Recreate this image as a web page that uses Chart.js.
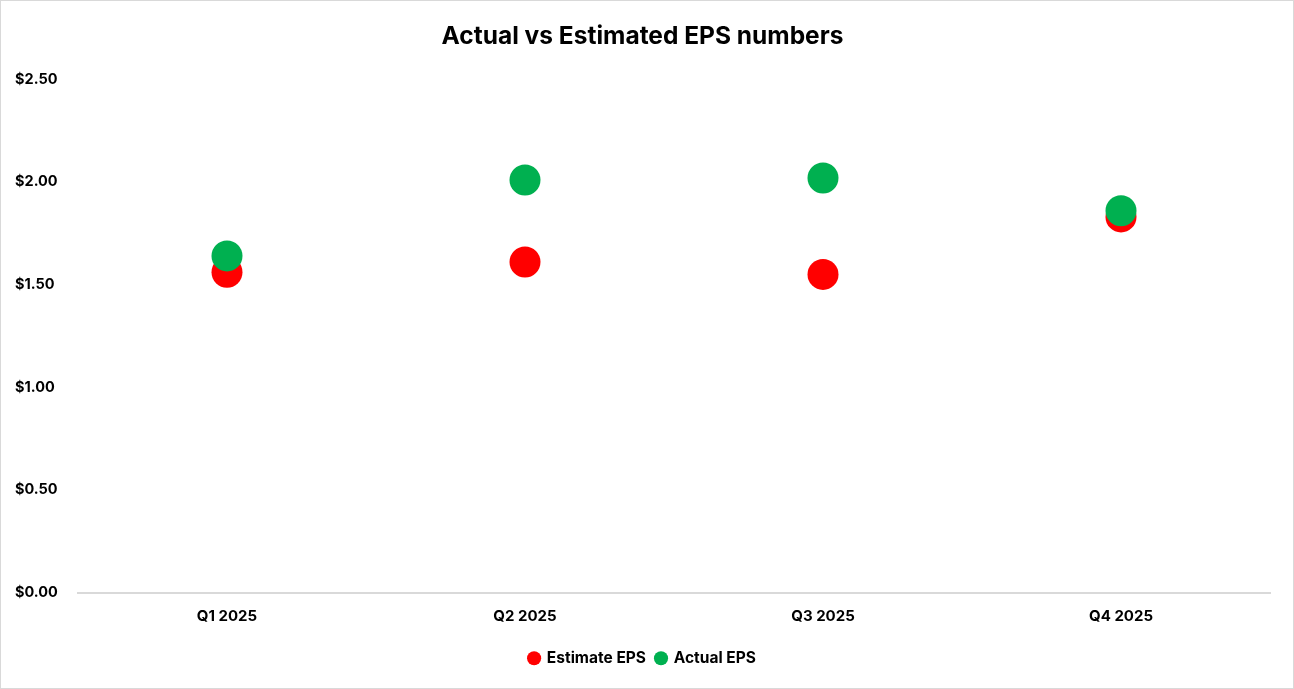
<!DOCTYPE html>
<html>
<head>
<meta charset="utf-8">
<script src="https://cdn.jsdelivr.net/npm/chart.js@4/dist/chart.umd.min.js"></script>
<style>
html,body{margin:0;padding:0;background:#fff;}
#wrap{width:1294px;height:689px;box-sizing:border-box;border:1px solid #d9d9d9;position:relative;}
canvas{display:block;}
</style>
</head>
<body>
<div id="wrap"><canvas id="c" width="1292" height="687"></canvas></div>
<script>
const categories = ["Q1 2025", "Q2 2025", "Q3 2025", "Q4 2025"];
const estimateEPS = [1.56, 1.61, 1.55, 1.83];
const actualEPS = [1.64, 2.01, 2.02, 1.86];
const yTicks = [0, 0.5, 1.0, 1.5, 2.0, 2.5];

const FONT = "'Inter', 'Noto Sans', sans-serif";

new Chart(document.getElementById('c'), {
  type: 'line',
  data: {
    labels: categories,
    datasets: [
      {
        label: 'Estimate EPS',
        data: estimateEPS,
        showLine: false,
        pointRadius: 15.5,
        pointHoverRadius: 15.5,
        pointBackgroundColor: '#ff0000',
        pointBorderWidth: 0,
        backgroundColor: '#ff0000',
        borderColor: '#ff0000',
        order: 1
      },
      {
        label: 'Actual EPS',
        data: actualEPS,
        showLine: false,
        pointRadius: 15.5,
        pointHoverRadius: 15.5,
        pointBackgroundColor: '#00b050',
        pointBorderWidth: 0,
        backgroundColor: '#00b050',
        borderColor: '#00b050',
        order: 0
      }
    ]
  },
  options: {
    responsive: false,
    animation: false,
    events: [],
    layout: { padding: { left: 14, right: 23, top: 0, bottom: 12 } },
    plugins: {
      title: {
        display: true,
        text: 'Actual vs Estimated EPS numbers',
        color: '#000',
        font: { family: FONT, size: 24.5, weight: 'bold' },
        padding: { top: 21, bottom: 28 }
      },
      legend: {
        position: 'bottom',
        labels: {
          usePointStyle: true,
          pointStyle: 'circle',
          boxWidth: 10,
          boxHeight: 10,
          color: '#000',
          font: { family: FONT, size: 15.5, weight: 'bold' },
          padding: 10,
          sort: (a, b) => a.datasetIndex - b.datasetIndex
        }
      },
      tooltip: { enabled: false }
    },
    scales: {
      x: {
        offset: true,
        grid: { display: false, drawTicks: false },
        border: { display: true, color: '#d9d9d9', width: 2 },
        ticks: {
          color: '#000',
          font: { family: FONT, size: 15, weight: 'bold' },
          padding: 15
        }
      },
      y: {
        min: 0,
        max: 2.5,
        afterBuildTicks: (s) => { s.ticks = yTicks.map(v => ({ value: v })); },
        afterFit: (s) => { s.width = 63; },
        grid: { display: false, drawTicks: false },
        border: { display: false },
        ticks: {
          color: '#000',
          crossAlign: 'far',
          font: { family: FONT, size: 14.5, weight: 'bold' },
          callback: (v) => '$' + Number(v).toFixed(2)
        }
      }
    }
  }
});
</script>
</body>
</html>
